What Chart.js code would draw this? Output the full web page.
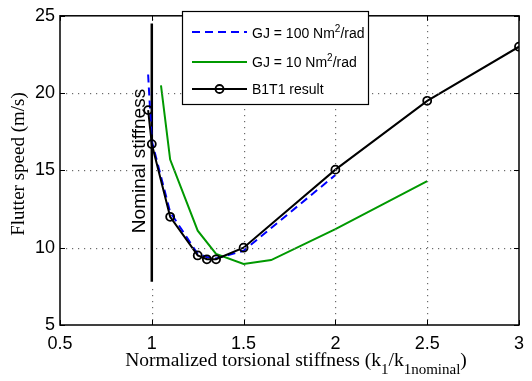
<!DOCTYPE html>
<html>
<head>
<meta charset="utf-8">
<script src="https://cdn.jsdelivr.net/npm/chart.js@4"></script>
<style>
  html, body { margin: 0; padding: 0; background: #fff; }
  canvas { display: block; }
</style>
</head>
<body>
<canvas id="flutterChart" width="532" height="381"></canvas>
<script>
// Flutter speed vs normalized torsional stiffness
const b1t1Ratio = [0.98, 1.0, 1.1, 1.25, 1.3, 1.35, 1.5, 2.0, 2.5, 3.0];
const b1t1Speed = [18.9, 16.7, 12.0, 9.5, 9.25, 9.25, 10.0, 15.05, 19.5, 23.0];

const gj100Ratio = [0.98, 1.0, 1.1, 1.25, 1.3, 1.35, 1.5, 2.0];
const gj100Speed = [21.2, 16.9, 12.3, 9.6, 9.4, 9.3, 9.8, 14.7];

const gj10Ratio = [1.05, 1.1, 1.25, 1.35, 1.5, 1.65, 2.0, 2.5];
const gj10Speed = [20.5, 15.7, 11.1, 9.6, 8.95, 9.2, 11.2, 14.3];

// vertical marker at the nominal stiffness
const nominalRatio = [1.0, 1.0];
const nominalSpeed = [7.8, 24.5];

const xTicks = [0.5, 1, 1.5, 2, 2.5, 3];
const yTicks = [5, 10, 15, 20, 25];

const toPoints = (xs, ys) => xs.map((x, i) => ({ x: x, y: ys[i] }));

const SANS = '"Liberation Sans", Arial, sans-serif';
const SERIF = '"Liberation Serif", "Times New Roman", serif';

// draw text runs with sub/superscripts, returns total width
function drawRuns(ctx, runs, x, y, measureOnly) {
  let cx = x;
  runs.forEach(r => {
    ctx.font = r.font;
    if (!measureOnly) ctx.fillText(r.text, cx, y + (r.dy || 0));
    cx += ctx.measureText(r.text).width;
  });
  return cx - x;
}

// dotted grid at the inner ticks; no dots on top of the nominal line
function dottedGrid(chart) {
  const ctx = chart.ctx;
  const area = chart.chartArea;
  const xs = chart.scales.x;
  const ys = chart.scales.y;
  const nomX = xs.getPixelForValue(nominalRatio[0]);
  const nomTop = ys.getPixelForValue(nominalSpeed[1]);
  const nomBottom = ys.getPixelForValue(nominalSpeed[0]);
  ctx.save();
  ctx.fillStyle = '#6a6a6a';
  xTicks.slice(1, -1).forEach(v => {
    const px = Math.round(xs.getPixelForValue(v));
    for (let y = area.bottom - 6; y > area.top + 2; y -= 6) {
      if (Math.abs(px - nomX) < 3 && y > nomTop - 2 && y < nomBottom + 2) continue;
      ctx.fillRect(px, Math.round(y), 1.2, 1.2);
    }
  });
  yTicks.slice(1, -1).forEach(v => {
    const py = Math.round(ys.getPixelForValue(v));
    for (let x = area.left + 6; x < area.right - 2; x += 6) {
      if (Math.abs(x - nomX) < 3 && py > nomTop && py < nomBottom) continue;
      ctx.fillRect(Math.round(x), py, 1.2, 1.2);
    }
  });
  ctx.restore();
}

const decorations = {
  id: 'decorations',
  afterDatasetsDraw(chart) {
    const ctx = chart.ctx;
    const area = chart.chartArea;
    const xs = chart.scales.x;
    const ys = chart.scales.y;

    dottedGrid(chart);

    ctx.save();

    // axes box and inward ticks
    ctx.strokeStyle = '#000';
    ctx.lineWidth = 1.5;
    ctx.setLineDash([]);
    ctx.strokeRect(area.left, area.top, area.right - area.left, area.bottom - area.top);
    ctx.lineWidth = 1;
    ctx.beginPath();
    xTicks.forEach(v => {
      const px = Math.round(xs.getPixelForValue(v)) + 0.5;
      ctx.moveTo(px, area.bottom); ctx.lineTo(px, area.bottom - 5);
      ctx.moveTo(px, area.top); ctx.lineTo(px, area.top + 5);
    });
    yTicks.forEach(v => {
      const py = Math.round(ys.getPixelForValue(v)) + 0.5;
      ctx.moveTo(area.left, py); ctx.lineTo(area.left + 5, py);
      ctx.moveTo(area.right, py); ctx.lineTo(area.right - 5, py);
    });
    ctx.stroke();

    // rotated label beside the nominal line
    ctx.fillStyle = '#000';
    ctx.save();
    ctx.translate(145, 161);
    ctx.rotate(-Math.PI / 2);
    ctx.font = '19px ' + SANS;
    ctx.textAlign = 'center';
    ctx.textBaseline = 'alphabetic';
    ctx.fillText('Nominal stiffness', 0, 0);
    ctx.restore();

    // legend box
    const lx = 182, ly = 11, lw = 186, lh = 93;
    ctx.fillStyle = '#fff';
    ctx.fillRect(lx, ly, lw, lh);
    ctx.strokeStyle = '#000';
    ctx.lineWidth = 1.2;
    ctx.strokeRect(lx + 0.5, ly + 0.5, lw, lh);

    const rows = [
      { y: 32, color: '#0000ff', dash: [8, 5], label: 'GJ = 100 Nm', sup: true, base: 37.5 },
      { y: 62, color: '#009900', dash: [], label: 'GJ = 10 Nm', sup: true, base: 67 },
      { y: 89, color: '#000000', dash: [], label: 'B1T1 result', sup: false, base: 94, marker: true }
    ];
    rows.forEach(r => {
      ctx.strokeStyle = r.color;
      ctx.lineWidth = 2;
      ctx.setLineDash(r.dash);
      ctx.beginPath();
      ctx.moveTo(192, r.y); ctx.lineTo(247, r.y);
      ctx.stroke();
      ctx.setLineDash([]);
      if (r.marker) {
        ctx.lineWidth = 1.8;
        ctx.beginPath();
        ctx.arc(219.5, r.y, 4, 0, Math.PI * 2);
        ctx.stroke();
      }
      ctx.fillStyle = '#000';
      ctx.textAlign = 'left';
      ctx.textBaseline = 'alphabetic';
      const runs = [{ text: r.label, font: '14px ' + SANS }];
      if (r.sup) {
        runs.push({ text: '2', font: '10px ' + SANS, dy: -6 });
        runs.push({ text: '/rad', font: '14px ' + SANS });
      }
      drawRuns(ctx, runs, 252, r.base);
    });

    // x axis title with subscripts
    const xRuns = [
      { text: 'Normalized torsional stiffness (k', font: '19.5px ' + SERIF },
      { text: '1', font: '15px ' + SERIF, dy: 8 },
      { text: '/k', font: '19.5px ' + SERIF },
      { text: '1nominal', font: '15px ' + SERIF, dy: 8 },
      { text: ')', font: '19.5px ' + SERIF }
    ];
    const xw = drawRuns(ctx, xRuns, 0, 0, true);
    drawRuns(ctx, xRuns, 296 - xw / 2, 366);

    // y axis title
    ctx.save();
    ctx.translate(24, 164);
    ctx.rotate(-Math.PI / 2);
    ctx.font = '19px ' + SERIF;
    ctx.textAlign = 'center';
    ctx.fillText('Flutter speed (m/s)', 0, 0);
    ctx.restore();

    ctx.restore();
  }
};

const ctx = document.getElementById('flutterChart').getContext('2d');
const flutterChart = new Chart(ctx, {
  type: 'line',
  data: {
    datasets: [
      {
        label: 'B1T1 result',
        data: toPoints(b1t1Ratio, b1t1Speed),
        borderColor: '#000',
        borderWidth: 2,
        pointRadius: 4,
        pointBorderWidth: 1.8,
        pointBorderColor: '#000',
        pointBackgroundColor: 'rgba(0,0,0,0)',
        tension: 0
      },
      {
        label: 'GJ = 10 Nm2/rad',
        data: toPoints(gj10Ratio, gj10Speed),
        borderColor: '#009900',
        borderWidth: 2,
        pointRadius: 0,
        tension: 0
      },
      {
        label: 'GJ = 100 Nm2/rad',
        data: toPoints(gj100Ratio, gj100Speed),
        borderColor: '#0000ff',
        borderWidth: 2,
        borderDash: [8, 5],
        pointRadius: 0,
        tension: 0
      },
      {
        label: 'Nominal',
        data: toPoints(nominalRatio, nominalSpeed),
        borderColor: '#000',
        borderWidth: 2.5,
        pointRadius: 0
      }
    ]
  },
  options: {
    responsive: false,
    animation: false,
    layout: { padding: { left: 0, right: 5, top: 12, bottom: 0 } },
    plugins: {
      legend: { display: false },
      tooltip: { enabled: false }
    },
    scales: {
      x: {
        type: 'linear',
        min: 0.5,
        max: 3,
        afterFit: (scale) => { scale.height = 56; },
        afterBuildTicks: (scale) => { scale.ticks = xTicks.map(v => ({ value: v })); },
        grid: { display: false, drawTicks: false },
        border: { display: false },
        ticks: {
          color: '#000',
          font: { family: SANS, size: 18 },
          padding: 8,
          maxRotation: 0,
          callback: (v) => String(v)
        }
      },
      y: {
        type: 'linear',
        min: 5,
        max: 25,
        afterFit: (scale) => { scale.width = 60; },
        afterBuildTicks: (scale) => { scale.ticks = yTicks.map(v => ({ value: v })); },
        grid: { display: false, drawTicks: false },
        border: { display: false },
        ticks: {
          color: '#000',
          font: { family: SANS, size: 18 },
          padding: 5,
          callback: (v) => String(v)
        }
      }
    }
  },
  plugins: [decorations]
});
</script>
</body>
</html>
